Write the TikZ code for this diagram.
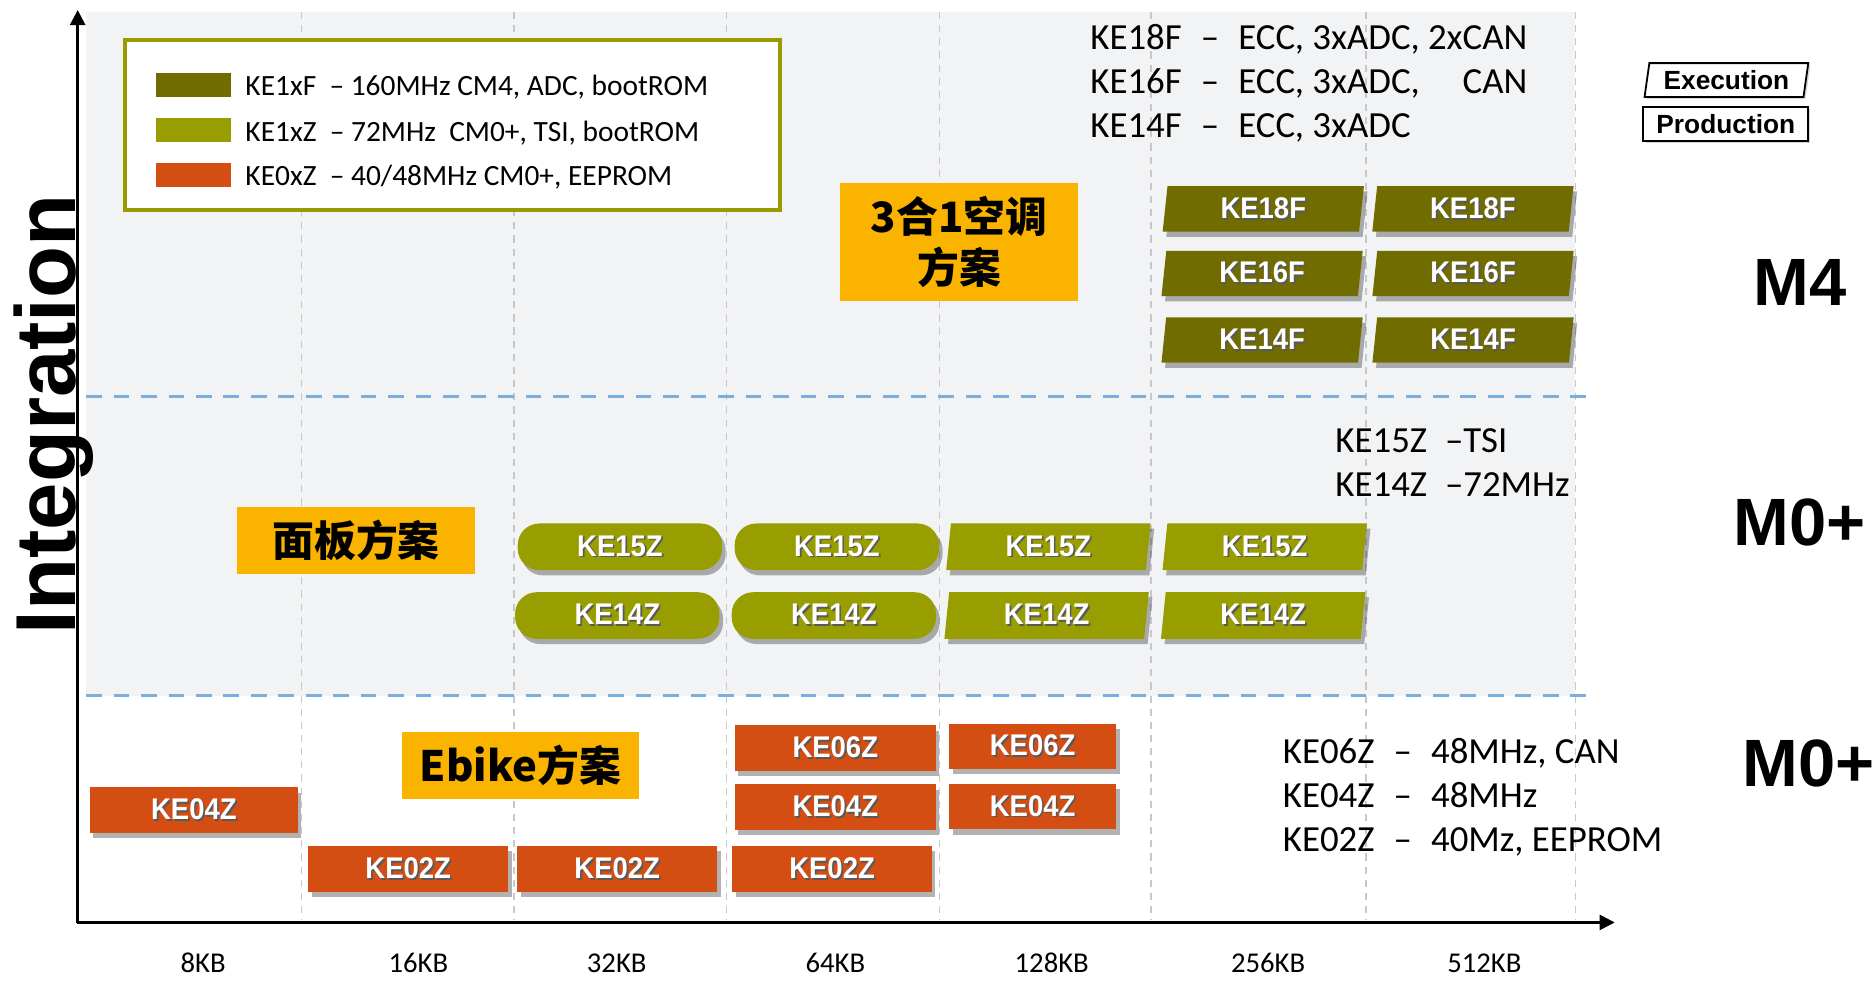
\documentclass[tikz,border=0pt]{standalone}
\usepackage{fontspec}
\setmainfont{Carlito}
\newfontfamily\chipfont{Liberation Sans}[FakeStretch=0.92]
\newfontfamily\arialf{Liberation Sans}
\newfontfamily\cjk{Noto Sans CJK SC}
\usetikzlibrary{shapes.geometric,shadows,arrows.meta}
\definecolor{fdark}{RGB}{112,108,0}
\definecolor{zlight}{RGB}{153,158,0}
\definecolor{oranger}{RGB}{212,78,20}
\definecolor{ylw}{RGB}{250,180,0}
\definecolor{bgc}{RGB}{242,243,245}
\definecolor{bluedash}{RGB}{122,174,220}
\definecolor{legbord}{RGB}{153,153,0}
\definecolor{vgridc}{RGB}{200,200,200}
\newcommand\tsh[1]{\rlap{\kern0.7pt\raisebox{-0.7pt}{\textcolor{black!65}{#1}}}#1}
\tikzset{
  chip/.style={inner sep=0pt, text=white, font=\chipfont\bfseries\fontsize{12.5}{14}\selectfont,
    minimum height=19pt, drop shadow={shadow xshift=1.5pt, shadow yshift=-2.2pt, opacity=0.3, fill=black}},
  para/.style={chip, trapezium, trapezium left angle=78, trapezium right angle=102, trapezium stretches body},
  fchip/.style={para, fill=fdark, minimum width=84.2pt},
  zpara/.style={para, fill=zlight, minimum width=85.5pt, minimum height=19.5pt},
  zround/.style={chip, rectangle, rounded corners=9pt, fill=zlight, minimum width=85.5pt, minimum height=19.5pt},
  ochip/.style={chip, rectangle, fill=oranger, minimum width=83.5pt},
  ybox/.style={rectangle, fill=ylw, inner sep=0pt, font=\cjk\bfseries\fontsize{17.5}{21.5}\selectfont, align=center, minimum width=99.5pt},
  legtext/.style={anchor=base west, inner sep=0pt, font=\fontsize{12.3}{15}\selectfont},
  swatch/.style={rectangle, inner sep=0pt, minimum width=31.3pt, minimum height=9.75pt},
  desc/.style={anchor=base west, inner sep=0pt, font=\fontsize{15.4}{18.5}\selectfont},
  xlab/.style={anchor=base, inner sep=0pt, font=\fontsize{12}{14}\selectfont},
  core/.style={anchor=base, inner sep=0pt, font=\arialf\bfseries\fontsize{28}{32}\selectfont},
  status/.style={inner sep=0pt, draw=black, line width=0.75pt, fill=white, font=\arialf\bfseries\fontsize{11}{13}\selectfont,
    minimum height=14.2pt, drop shadow={shadow xshift=0.9pt, shadow yshift=-0.9pt, fill=gray!60}},
  vgrid/.style={draw=vgridc, line width=0.5pt, dash pattern=on 3pt off 2.5pt},
  bdash/.style={draw=bluedash, line width=1.3pt, dash pattern=on 6.5pt off 5pt},
  axis/.style={draw=black, line width=1.1pt, -{Triangle[length=6.3pt,width=6.3pt]}},
}
\begin{document}
\begin{tikzpicture}[x=0.5pt,y=-0.5pt]
\useasboundingbox (0,0) rectangle (1568,820);
% background
\fill[bgc] (72,10) rectangle (1318,582);
\foreach \gx in {252,430,608,786,963,1143,1318} \draw[vgrid] (\gx,10) -- (\gx,770);
\draw[bdash] (72,332) -- (1328,332);
\draw[bdash] (72,582) -- (1328,582);
% legend
\node[draw=legbord, line width=1.7pt, fill=white, inner sep=0pt, minimum width=274.2pt, minimum height=71.25pt] (legend) at (378.8,104.75) {};
\node[swatch, fill=fdark] (swF) at (161.8,71.2) {};
\node[swatch, fill=zlight] (swZ) at (161.8,108.8) {};
\node[swatch, fill=oranger] (swO) at (161.8,146.5) {};
\node[legtext] (legF) at (205,80) {KE1xF\ \ -- 160MHz CM4, ADC, bootROM};
\node[legtext] (legZ) at (205,118.6) {KE1xZ\ \ -- 72MHz\ \ CM0+, TSI, bootROM};
\node[legtext] (legO) at (205,155) {KE0xZ\ \ -- 40/48MHz CM0+, EEPROM};
% descriptions
\node[desc] (descF) at (912,41.3) {\begin{tabular}[t]{@{}l@{\hspace{8pt}}c@{\hspace{8pt}}l@{}}
KE18F & -- & ECC, 3xADC, 2xCAN\\
KE16F & -- & ECC, 3xADC,\hfill CAN\\
KE14F & -- & ECC, 3xADC
\end{tabular}};
\node[desc] (descZ) at (1117,378.8) {\begin{tabular}[t]{@{}l@{\hspace{7.5pt}}l@{}}
KE15Z & --TSI\\
KE14Z & --72MHz
\end{tabular}};
\node[desc] (descO) at (1073,638.8) {\begin{tabular}[t]{@{}l@{\hspace{8pt}}c@{\hspace{8pt}}l@{}}
KE06Z & -- & 48MHz, CAN\\
KE04Z & -- & 48MHz\\
KE02Z & -- & 40Mz, EEPROM
\end{tabular}};
% status boxes
\node[status, trapezium, trapezium left angle=76, trapezium right angle=104, trapezium stretches body, minimum width=68.5pt] (exec) at (1444.5,67) {Execution};
\node[status, rectangle, minimum width=69pt] (prod) at (1444,103.5) {Production};
% core labels
\node[core] (m4) at (1506,256) {M4};
\node[core] (m0a) at (1505.5,456) {M0+};
\node[core] (m0b) at (1513,658) {M0+};
% yellow solution boxes
\node[ybox, minimum height=49.1pt] (ac) at (802.4,202.5) {3合1空调\\方案};
\node[ybox, minimum height=27.9pt] (panel) at (298,452.4) {面板方案};
\node[ybox, minimum height=27.75pt] (ebike) at (435.5,640.5) {Ebike方案};
% KE1xF chips
\node[fchip] (f18a) at (1057,174.8) {\tsh{KE18F}};
\node[fchip] (f16a) at (1056,228.8) {\tsh{KE16F}};
\node[fchip] (f14a) at (1056,284.5) {\tsh{KE14F}};
\node[fchip] (f18b) at (1232.4,174.8) {\tsh{KE18F}};
\node[fchip] (f16b) at (1232.5,228.8) {\tsh{KE16F}};
\node[fchip] (f14b) at (1232.5,284.5) {\tsh{KE14F}};
% KE1xZ chips
\node[zround] (z15a) at (518.7,457.5) {\tsh{KE15Z}};
\node[zround] (z14a) at (516.5,515) {\tsh{KE14Z}};
\node[zround] (z15b) at (700.2,457.5) {\tsh{KE15Z}};
\node[zround] (z14b) at (697.7,515) {\tsh{KE14Z}};
\node[zpara] (z15c) at (877.2,457.5) {\tsh{KE15Z}};
\node[zpara] (z14c) at (875.7,515) {\tsh{KE14Z}};
\node[zpara] (z15d) at (1058.2,457.5) {\tsh{KE15Z}};
\node[zpara] (z14d) at (1056.9,515) {\tsh{KE14Z}};
% KE0xZ chips
\node[ochip, minimum width=87pt] (o04a) at (162.2,677.7) {\tsh{KE04Z}};
\node[ochip] (o02a) at (341.6,727) {\tsh{KE02Z}};
\node[ochip] (o02b) at (516.4,727) {\tsh{KE02Z}};
\node[ochip] (o02c) at (696.2,727) {\tsh{KE02Z}};
\node[ochip, minimum width=84pt] (o06a) at (698.9,626) {\tsh{KE06Z}};
\node[ochip, minimum width=84pt] (o04b) at (698.9,675.3) {\tsh{KE04Z}};
\node[ochip, minimum width=70pt] (o06b) at (864,624.5) {\tsh{KE06Z}};
\node[ochip, minimum width=70pt] (o04c) at (864,675) {\tsh{KE04Z}};
% axis labels
\node[xlab] (l8) at (170,814) {8KB};
\node[xlab] (l16) at (350,814) {16KB};
\node[xlab] (l32) at (516,814) {32KB};
\node[xlab] (l64) at (699,814) {64KB};
\node[xlab] (l128) at (880,814) {128KB};
\node[xlab] (l256) at (1061,814) {256KB};
\node[xlab] (l512) at (1242,814) {512KB};
\node[rotate=90, anchor=base west, inner sep=0pt, font=\arialf\bfseries\fontsize{35.6}{40}\selectfont] (integ) at (62.8,531) {Integration};
% axes
\coordinate (O) at (65,772.4);
\coordinate (ytip) at (65,8.4);
\coordinate (xtip) at (1351,771.8);
\draw[axis] (O) -- (ytip);
\draw[axis] (64.5,771.8) -- (xtip);
\end{tikzpicture}
\end{document}
